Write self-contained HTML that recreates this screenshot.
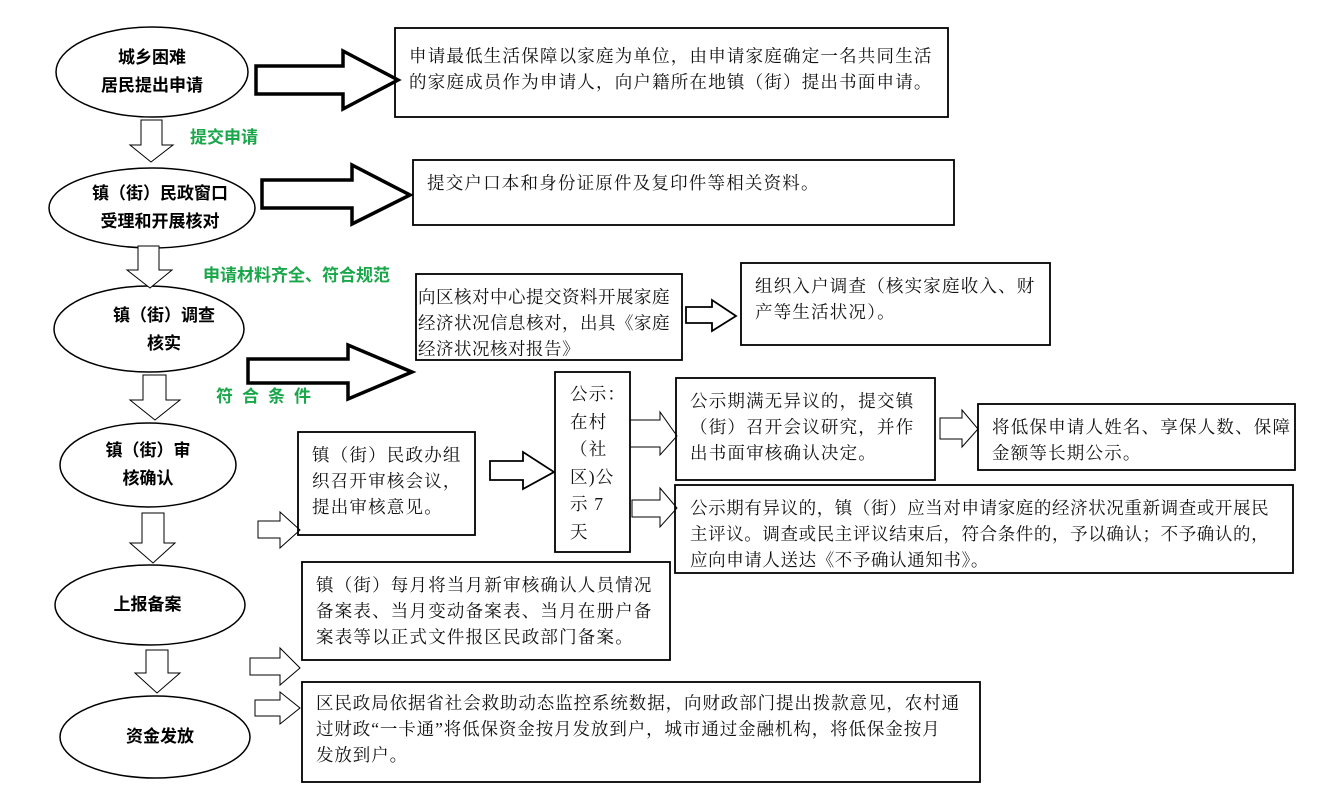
<!DOCTYPE html>
<html><head><meta charset="utf-8"><style>
body{margin:0;background:#fff;}
#c{position:relative;width:1334px;height:801px;overflow:hidden;font-family:"Liberation Serif","Noto Serif CJK SC","Noto Sans CJK SC",serif;}
.t{position:absolute;font-size:17.5px;line-height:26px;color:#111;letter-spacing:1.2px;white-space:nowrap;}
.e{position:absolute;font-family:"Liberation Sans","Noto Sans CJK SC",sans-serif;font-weight:bold;font-size:17px;line-height:28px;color:#000;text-align:center;white-space:nowrap;}
.g{position:absolute;font-family:"Liberation Sans","Noto Sans CJK SC",sans-serif;font-weight:bold;font-size:17px;color:#1aa64a;white-space:nowrap;}
</style></head><body><div id="c">
<svg width="1334" height="801" style="position:absolute;left:0;top:0" fill="none" stroke="#000">
<g stroke-width="1.5">
<ellipse cx="152" cy="72" rx="96" ry="45"/>
<ellipse cx="152" cy="208" rx="103" ry="40"/>
<ellipse cx="149" cy="329" rx="95" ry="43"/>
<ellipse cx="148" cy="465" rx="88" ry="42"/>
<ellipse cx="150" cy="605" rx="95" ry="40"/>
<ellipse cx="155" cy="737" rx="95" ry="41"/>
</g>
<g stroke-width="1" fill="#fff">
<path d="M141,120 H162 V145 H173 L151,162 L130,145 H141 Z"/>
<path d="M138,246 H159 V270 H172 L150,288 L127,270 H138 Z"/>
<path d="M143,375 H166 V400 H180 L155,420 L130,400 H143 Z"/>
<path d="M142,513 H164 V543 H175 L153,563 L130,543 H142 Z"/>
<path d="M146,650 H168 V673 H180 L157,693 L135,673 H146 Z"/>
</g>
<g stroke-width="3.5" fill="#fff">
<path d="M256,66 H343 V51 L398,80 L343,109 V94 H256 Z"/>
<path d="M262,180 H352 V165 L410,195 L352,224 V208 H262 Z"/>
<path d="M248,359 H348 V345 L412,372 L348,399 V383 H248 Z"/>
</g>
<g stroke-width="1.8" fill="#fff">
<path d="M686,307 H712 V300 L736,316 L712,331 V323 H686 Z"/>
<path d="M490,461 H523 V452 L554,472 L523,489 V480 H490 Z"/>
</g>
<g stroke-width="1" fill="#fff">
<path d="M630,420 H660 V412 L677,436 L660,455 V447 H630 Z"/>
<path d="M632,500 H660 V488 L677,508 L660,527 V517 H632 Z"/>
<path d="M940,418 H962 V410 L978,429 L962,447 V439 H940 Z"/>
<path d="M258,521 H280 V512 L300,530 L280,548 V538 H258 Z"/>
<path d="M250,658 H280 V648 L300,668 L280,685 V675 H250 Z"/>
<path d="M255,700 H280 V692 L300,708 L280,724 V716 H255 Z"/>
</g>
<g stroke-width="1.8">
<rect x="395" y="28" width="553" height="89"/>
<rect x="413" y="160" width="541" height="65"/>
<rect x="416" y="274" width="266" height="86"/>
<rect x="741" y="263" width="309" height="82"/>
<rect x="298" y="432" width="177" height="103"/>
<rect x="555" y="372" width="75" height="180"/>
<rect x="676" y="378" width="259" height="102"/>
<rect x="978" y="404" width="317" height="66"/>
<rect x="675" y="485" width="618" height="88"/>
<rect x="302" y="562" width="368" height="98"/>
<rect x="302" y="682" width="678" height="100"/>
</g>
</svg>
<div class="e" style="left:56px;top:44px;width:192px">城乡困难<br>居民提出申请</div>
<div class="e" style="left:60px;top:180px;width:200px">镇（街）民政窗口<br>受理和开展核对</div>
<div class="e" style="left:64px;top:302px;width:200px">镇（街）调查<br>核实</div>
<div class="e" style="left:60px;top:437px;width:176px">镇（街）审<br>核确认</div>
<div class="e" style="left:55px;top:591px;width:185px">上报备案</div>
<div class="e" style="left:60px;top:723px;width:200px">资金发放</div>
<div class="g" style="left:190px;top:123px">提交申请</div>
<div class="g" style="left:203px;top:261px">申请材料齐全、符合规范</div>
<div class="g" style="left:216px;top:382px;letter-spacing:9px">符合条件</div>
<div class="t" style="left:409px;top:43px">申请最低生活保障以家庭为单位，由申请家庭确定一名共同生活<br>的家庭成员作为申请人，向户籍所在地镇（街）提出书面申请。</div>
<div class="t" style="left:427px;top:170px">提交户口本和身份证原件及复印件等相关资料。</div>
<div class="t" style="left:418px;top:284px;height:72px;overflow:hidden;letter-spacing:0.5px">向区核对中心提交资料开展家庭<br>经济状况信息核对，出具《家庭<br>经济状况核对报告》</div>
<div class="t" style="left:755px;top:273px">组织入户调查（核实家庭收入、财<br>产等生活状况）。</div>
<div class="t" style="left:312px;top:442px">镇（街）民政办组<br>织召开审核会议，<br>提出审核意见。</div>
<div class="t" style="left:570px;top:381px;line-height:27.5px">公示：<br>在村<br>（社<br>区)公<br>示 7<br>天</div>
<div class="t" style="left:690px;top:388px">公示期满无异议的，提交镇<br>（街）召开会议研究，并作<br>出书面审核确认决定。</div>
<div class="t" style="left:992px;top:414px">将低保申请人姓名、享保人数、保障<br>金额等长期公示。</div>
<div class="t" style="left:690px;top:495px;letter-spacing:0.6px">公示期有异议的，镇（街）应当对申请家庭的经济状况重新调查或开展民<br>主评议。调查或民主评议结束后，符合条件的，予以确认；不予确认的，<br>应向申请人送达《不予确认通知书》。</div>
<div class="t" style="left:316px;top:572px">镇（街）每月将当月新审核确认人员情况<br>备案表、当月变动备案表、当月在册户备<br>案表等以正式文件报区民政部门备案。</div>
<div class="t" style="left:316px;top:690px;letter-spacing:0.9px">区民政局依据省社会救助动态监控系统数据，向财政部门提出拨款意见，农村通<br>过财政“一卡通”将低保资金按月发放到户，城市通过金融机构，将低保金按月<br>发放到户。</div>
</div></body></html>
